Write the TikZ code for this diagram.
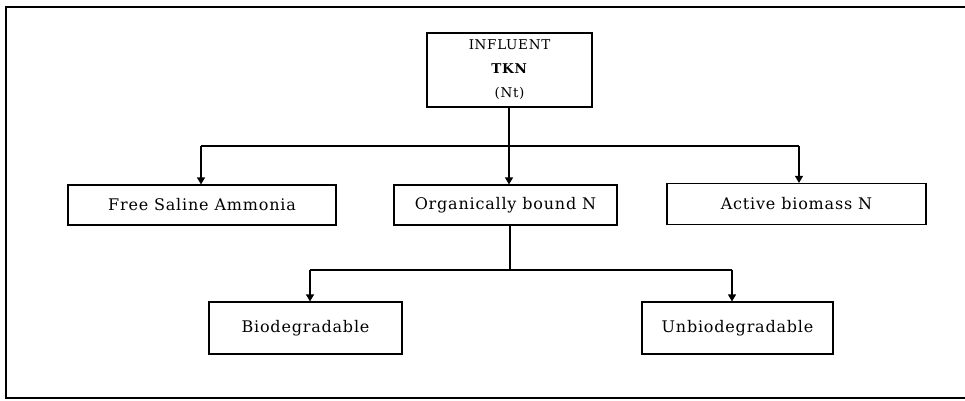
\documentclass[tikz,border=0pt]{standalone}
\usepackage{fontspec}
\setmainfont{DejaVu Serif}[LetterSpace=5]
\usetikzlibrary{arrows.meta}
\tikzset{
  box/.style={draw, line width=1.2pt, inner sep=0pt, align=center, font=\fontsize{16}{19}\selectfont},
  link/.style={line width=1.2pt},
  arrowlink/.style={line width=1.2pt, -{Triangle[width=8pt,length=7pt]}},
  frame/.style={line width=1.8pt}
}
\begin{document}
\begin{tikzpicture}[x=1pt,y=-1pt]
\useasboundingbox (0,0) rectangle (965,400);
% outer frame (open on the right)
\draw[frame] (965,7) -- (6,7) -- (6,398) -- (965,398);

% boxes
\node[box, minimum width=165pt, minimum height=74pt, font=\fontsize{13.5}{24}\selectfont] (top) at (509.5,70)
  {INFLUENT\\\textbf{TKN}\\(Nt)};
\node[box, minimum width=268pt, minimum height=40pt] (free) at (202,205) {Free Saline Ammonia};
\node[box, minimum width=223pt, minimum height=40pt] (org) at (505.5,205) {Organically bound N};
\node[box, minimum width=259pt, minimum height=41pt] (act) at (796.5,204) {Active biomass N};
\node[box, minimum width=193pt, minimum height=52pt] (bio) at (305.5,328) {Biodegradable};
\node[box, minimum width=191pt, minimum height=52pt] (unbio) at (737.5,328) {Unbiodegradable};

% first level branching
\coordinate (j1) at (509,146);
\coordinate (l1) at (201,146);
\coordinate (r1) at (799,146);
\draw[link] (j1 |- top.south) -- (j1);
\draw[link] (l1) -- (r1);
\draw[arrowlink] (l1) -- (l1 |- free.north);
\draw[arrowlink] (j1) -- (j1 |- org.north);
\draw[arrowlink] (r1) -- (r1 |- act.north);

% second level branching
\coordinate (j2) at (510,270);
\coordinate (l2) at (310,270);
\coordinate (r2) at (732,270);
\draw[link] (j2 |- org.south) -- (j2);
\draw[link] (l2) -- (r2);
\draw[arrowlink] (l2) -- (l2 |- bio.north);
\draw[arrowlink] (r2) -- (r2 |- unbio.north);
\end{tikzpicture}
\end{document}
